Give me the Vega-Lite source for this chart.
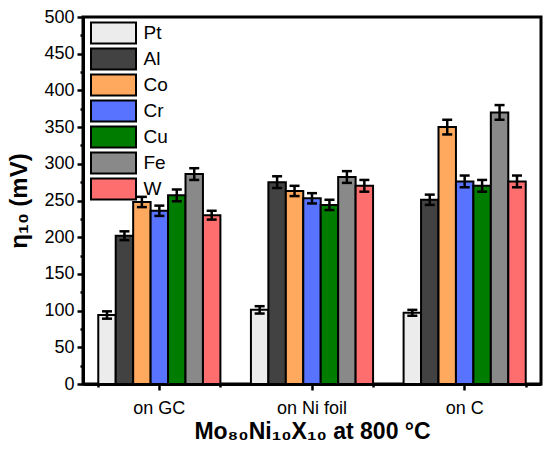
{
  "$schema": "https://vega.github.io/schema/vega-lite/v6.json",
  "width": 458,
  "height": 367,
  "autosize": {"type": "none"},
  "padding": {"left": 83, "top": 17, "right": 9, "bottom": 68},
  "data": {
    "values": [
      {"substrate": "on GC", "metal": "Pt", "value": 94, "lo": 89, "hi": 99},
      {"substrate": "on GC", "metal": "Al", "value": 202, "lo": 196, "hi": 208},
      {"substrate": "on GC", "metal": "Co", "value": 248, "lo": 241, "hi": 255},
      {"substrate": "on GC", "metal": "Cr", "value": 236, "lo": 229, "hi": 243},
      {"substrate": "on GC", "metal": "Cu", "value": 257, "lo": 249, "hi": 265},
      {"substrate": "on GC", "metal": "Fe", "value": 286, "lo": 278, "hi": 294},
      {"substrate": "on GC", "metal": "W", "value": 230, "lo": 224, "hi": 236},
      {"substrate": "on Ni foil", "metal": "Pt", "value": 101, "lo": 96, "hi": 106},
      {"substrate": "on Ni foil", "metal": "Al", "value": 275, "lo": 267, "hi": 283},
      {"substrate": "on Ni foil", "metal": "Co", "value": 263, "lo": 256, "hi": 270},
      {"substrate": "on Ni foil", "metal": "Cr", "value": 253, "lo": 246, "hi": 260},
      {"substrate": "on Ni foil", "metal": "Cu", "value": 244, "lo": 237, "hi": 251},
      {"substrate": "on Ni foil", "metal": "Fe", "value": 282, "lo": 274, "hi": 290},
      {"substrate": "on Ni foil", "metal": "W", "value": 270, "lo": 262, "hi": 278},
      {"substrate": "on C", "metal": "Pt", "value": 97, "lo": 93, "hi": 101},
      {"substrate": "on C", "metal": "Al", "value": 251, "lo": 244, "hi": 258},
      {"substrate": "on C", "metal": "Co", "value": 350, "lo": 340, "hi": 360},
      {"substrate": "on C", "metal": "Cr", "value": 276, "lo": 268, "hi": 284},
      {"substrate": "on C", "metal": "Cu", "value": 270, "lo": 262, "hi": 278},
      {"substrate": "on C", "metal": "Fe", "value": 370, "lo": 360, "hi": 380},
      {"substrate": "on C", "metal": "W", "value": 276, "lo": 268, "hi": 284}
    ]
  },
  "encoding": {
    "xOffset": {
      "field": "metal",
      "type": "nominal",
      "sort": ["Pt", "Al", "Co", "Cr", "Cu", "Fe", "W"],
      "scale": {"paddingInner": 0, "paddingOuter": 0}
    }
  },
  "layer": [
    {
      "mark": {"type": "bar", "stroke": "black", "strokeWidth": 2, "opacity": 1},
      "encoding": {
        "x": {
          "field": "substrate",
          "type": "nominal",
          "sort": ["on GC", "on Ni foil", "on C"],
          "scale": {"paddingInner": 0.2, "paddingOuter": 0.1},
          "axis": {
            "title": "Mo₈₀Ni₁₀X₁₀ at 800 °C",
            "titleFontSize": 23,
            "titleFontWeight": "bold",
            "titlePadding": 3,
            "labelAngle": 0,
            "labelFontSize": 18,
            "labelPadding": 9,
            "tickSize": 6,
            "bandPosition": 0.5
          }
        },
        "y": {
          "field": "value",
          "type": "quantitative",
          "scale": {"domain": [0, 500], "nice": false},
          "axis": {
            "title": "η₁₀ (mV)",
            "titleFontSize": 24,
            "titleFontWeight": "bold",
            "titlePadding": 12,
            "values": [0, 50, 100, 150, 200, 250, 300, 350, 400, 450, 500],
            "labelFontSize": 18,
            "labelPadding": 3,
            "tickSize": 6,
            "grid": false
          }
        },
        "color": {
          "field": "metal",
          "type": "nominal",
          "scale": {
            "domain": ["Pt", "Al", "Co", "Cr", "Cu", "Fe", "W"],
            "range": ["#ececec", "#424242", "#ffa95f", "#5773ff", "#007d00", "#898989", "#ff6e6e"]
          },
          "legend": {
            "orient": "none",
            "legendX": 19.5,
            "legendY": 5,
            "title": null,
            "padding": 0,
            "symbolType": "M-2.25,-1.05H2.25V1.05H-2.25Z",
            "symbolSize": 400,
            "symbolStrokeColor": "black",
            "symbolStrokeWidth": 2,
            "symbolOpacity": 1,
            "labelFontSize": 19,
            "labelOffset": 19,
            "rowPadding": -8
          }
        }
      }
    },
    {
      "mark": {"type": "rule", "color": "black", "strokeWidth": 2.5},
      "encoding": {
        "x": {"field": "substrate", "type": "nominal", "sort": ["on GC", "on Ni foil", "on C"], "axis": null},
        "y": {"field": "lo", "type": "quantitative", "axis": null},
        "y2": {"field": "hi"}
      }
    },
    {
      "mark": {"type": "tick", "color": "black", "thickness": 2.5, "size": 10, "opacity": 1},
      "encoding": {
        "x": {"field": "substrate", "type": "nominal", "sort": ["on GC", "on Ni foil", "on C"], "axis": null},
        "y": {"field": "lo", "type": "quantitative", "axis": null}
      }
    },
    {
      "mark": {"type": "tick", "color": "black", "thickness": 2.5, "size": 10, "opacity": 1},
      "encoding": {
        "x": {
          "field": "substrate",
          "type": "nominal",
          "sort": ["on GC", "on Ni foil", "on C"],
          "axis": {"orient": "bottom", "title": null, "labels": false, "domain": false, "tickSize": 3, "tickBand": "extent"}
        },
        "y": {
          "field": "hi",
          "type": "quantitative",
          "axis": {
            "orient": "left",
            "title": null,
            "labels": false,
            "domain": false,
            "grid": false,
            "tickSize": 3,
            "values": [25, 75, 125, 175, 225, 275, 325, 375, 425, 475]
          }
        }
      }
    }
  ],
  "resolve": {"axis": {"x": "independent", "y": "independent"}},
  "config": {
    "font": "Liberation Sans",
    "view": {"stroke": "black", "strokeWidth": 3},
    "axis": {
      "domainColor": "black",
      "domainWidth": 3,
      "tickColor": "black",
      "tickWidth": 2.5,
      "labelColor": "black",
      "titleColor": "black",
      "labelFont": "Liberation Sans",
      "titleFont": "Liberation Sans"
    },
    "legend": {"labelFont": "Liberation Sans", "labelColor": "black"}
  }
}
